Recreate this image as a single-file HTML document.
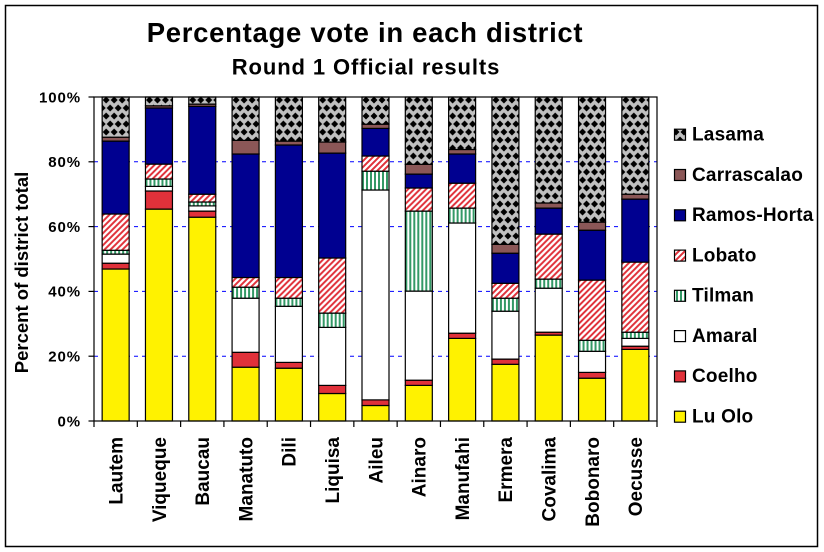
<!DOCTYPE html>
<html>
<head>
<meta charset="utf-8">
<style>
html,body{margin:0;padding:0;background:#fff;}
svg{display:block;}
text{font-family:"Liberation Sans",Arial,sans-serif;font-weight:bold;fill:#000;}
.s rect{stroke:#000;stroke-width:1.2;}
.y{fill:#FFF200;}
.r{fill:#E0313A;}
.w{fill:#FFFFFF;}
.t{fill:url(#til);}
.l{fill:url(#lob);}
.n{fill:#000090;}
.b{fill:#8B5757;}
.g{fill:url(#las);}
</style>
</head>
<body>
<svg width="824" height="552" viewBox="0 0 824 552" xmlns="http://www.w3.org/2000/svg">
<defs>
<pattern id="las" patternUnits="userSpaceOnUse" width="8" height="16">
<rect x="0" y="0" width="8" height="16" fill="#C0C0C0"/>
<path d="M4,0.5 L7.5,4 L4,7.5 L0.5,4 Z M0,8.5 L3.5,12 L0,15.5 L-3.5,12 Z M8,8.5 L11.5,12 L8,15.5 L4.5,12 Z" fill="#000"/>
</pattern>
<pattern id="til" patternUnits="userSpaceOnUse" width="4" height="4">
<rect x="0" y="0" width="4" height="4" fill="#fff"/>
<rect x="0" y="0" width="2" height="4" fill="#339966"/>
</pattern>
<pattern id="lob" patternUnits="userSpaceOnUse" width="6" height="6">
<rect x="0" y="0" width="6" height="6" fill="#fff"/>
<path d="M-1.5,1.5 L1.5,-1.5 M0,6 L6,0 M4.5,7.5 L7.5,4.5" stroke="#E0313A" stroke-width="2"/>
</pattern>
</defs>

<rect x="0" y="0" width="824" height="552" fill="#fff"/>
<rect x="5.5" y="5.5" width="812" height="541" fill="none" stroke="#000" stroke-width="1.5"/>

<!-- titles -->
<text x="365" y="42" font-size="27.5" text-anchor="middle" letter-spacing="0.7">Percentage vote in each district</text>
<text x="366" y="74.3" font-size="22" text-anchor="middle" letter-spacing="0.9">Round 1 Official results</text>

<!-- gridlines -->
<g stroke="#0000FF" stroke-width="1" stroke-dasharray="4 4">
<line x1="94" y1="356.2" x2="657" y2="356.2"/>
<line x1="94" y1="291.4" x2="657" y2="291.4"/>
<line x1="94" y1="226.6" x2="657" y2="226.6"/>
<line x1="94" y1="161.8" x2="657" y2="161.8"/>
</g>

<!-- bars -->
<g class="s">
<g transform="translate(102.15,0)">
<rect class="y" x="0" width="27" y="269.0" height="152.0"/>
<rect class="r" x="0" width="27" y="263.2" height="5.8"/>
<rect class="w" x="0" width="27" y="254.1" height="9.1"/>
<rect class="t" x="0" width="27" y="250.3" height="3.8"/>
<rect class="l" x="0" width="27" y="214.0" height="36.3"/>
<rect class="n" x="0" width="27" y="141.1" height="72.9"/>
<rect class="b" x="0" width="27" y="137.2" height="3.9"/>
<rect class="g" x="0" width="27" y="97" height="40.2"/>
</g>
<g transform="translate(145.46,0)">
<rect class="y" x="0" width="27" y="209.1" height="211.9"/>
<rect class="r" x="0" width="27" y="191.0" height="18.1"/>
<rect class="w" x="0" width="27" y="186.4" height="4.6"/>
<rect class="t" x="0" width="27" y="179.0" height="7.4"/>
<rect class="l" x="0" width="27" y="164.1" height="14.9"/>
<rect class="n" x="0" width="27" y="108.0" height="56.1"/>
<rect class="b" x="0" width="27" y="105.8" height="2.2"/>
<rect class="g" x="0" width="27" y="97" height="8.8"/>
</g>
<g transform="translate(188.77,0)">
<rect class="y" x="0" width="27" y="217.2" height="203.8"/>
<rect class="r" x="0" width="27" y="211.1" height="6.1"/>
<rect class="w" x="0" width="27" y="205.9" height="5.2"/>
<rect class="t" x="0" width="27" y="202.0" height="3.9"/>
<rect class="l" x="0" width="27" y="194.2" height="7.8"/>
<rect class="n" x="0" width="27" y="106.4" height="87.8"/>
<rect class="b" x="0" width="27" y="104.1" height="2.3"/>
<rect class="g" x="0" width="27" y="97" height="7.1"/>
</g>
<g transform="translate(232.08,0)">
<rect class="y" x="0" width="27" y="367.2" height="53.8"/>
<rect class="r" x="0" width="27" y="352.3" height="14.9"/>
<rect class="w" x="0" width="27" y="298.2" height="54.1"/>
<rect class="t" x="0" width="27" y="287.2" height="11.0"/>
<rect class="l" x="0" width="27" y="277.5" height="9.7"/>
<rect class="n" x="0" width="27" y="154.0" height="123.5"/>
<rect class="b" x="0" width="27" y="140.4" height="13.6"/>
<rect class="g" x="0" width="27" y="97" height="43.4"/>
</g>
<g transform="translate(275.39,0)">
<rect class="y" x="0" width="27" y="368.2" height="52.8"/>
<rect class="r" x="0" width="27" y="362.4" height="5.8"/>
<rect class="w" x="0" width="27" y="306.3" height="56.1"/>
<rect class="t" x="0" width="27" y="298.2" height="8.1"/>
<rect class="l" x="0" width="27" y="277.5" height="20.7"/>
<rect class="n" x="0" width="27" y="145.0" height="132.5"/>
<rect class="b" x="0" width="27" y="141.1" height="3.9"/>
<rect class="g" x="0" width="27" y="97" height="44.1"/>
</g>
<g transform="translate(318.69,0)">
<rect class="y" x="0" width="27" y="393.5" height="27.5"/>
<rect class="r" x="0" width="27" y="385.4" height="8.1"/>
<rect class="w" x="0" width="27" y="327.4" height="58.0"/>
<rect class="t" x="0" width="27" y="313.1" height="14.3"/>
<rect class="l" x="0" width="27" y="258.0" height="55.1"/>
<rect class="n" x="0" width="27" y="153.1" height="104.9"/>
<rect class="b" x="0" width="27" y="142.0" height="11.1"/>
<rect class="g" x="0" width="27" y="97" height="45.0"/>
</g>
<g transform="translate(362.0,0)">
<rect class="y" x="0" width="27" y="405.5" height="15.5"/>
<rect class="r" x="0" width="27" y="399.9" height="5.6"/>
<rect class="w" x="0" width="27" y="190.0" height="209.9"/>
<rect class="t" x="0" width="27" y="171.2" height="18.8"/>
<rect class="l" x="0" width="27" y="156.0" height="15.2"/>
<rect class="n" x="0" width="27" y="128.4" height="27.6"/>
<rect class="b" x="0" width="27" y="124.2" height="4.2"/>
<rect class="g" x="0" width="27" y="97" height="27.2"/>
</g>
<g transform="translate(405.31,0)">
<rect class="y" x="0" width="27" y="385.4" height="35.6"/>
<rect class="r" x="0" width="27" y="380.2" height="5.2"/>
<rect class="w" x="0" width="27" y="291.1" height="89.1"/>
<rect class="t" x="0" width="27" y="211.1" height="80.0"/>
<rect class="l" x="0" width="27" y="188.0" height="23.1"/>
<rect class="n" x="0" width="27" y="174.1" height="13.9"/>
<rect class="b" x="0" width="27" y="164.4" height="9.7"/>
<rect class="g" x="0" width="27" y="97" height="67.4"/>
</g>
<g transform="translate(448.62,0)">
<rect class="y" x="0" width="27" y="338.4" height="82.6"/>
<rect class="r" x="0" width="27" y="333.2" height="5.2"/>
<rect class="w" x="0" width="27" y="223.0" height="110.2"/>
<rect class="t" x="0" width="27" y="208.1" height="14.9"/>
<rect class="l" x="0" width="27" y="183.2" height="24.9"/>
<rect class="n" x="0" width="27" y="154.0" height="29.2"/>
<rect class="b" x="0" width="27" y="149.5" height="4.5"/>
<rect class="g" x="0" width="27" y="97" height="52.5"/>
</g>
<g transform="translate(491.93,0)">
<rect class="y" x="0" width="27" y="364.3" height="56.7"/>
<rect class="r" x="0" width="27" y="359.1" height="5.2"/>
<rect class="w" x="0" width="27" y="311.2" height="47.9"/>
<rect class="t" x="0" width="27" y="298.2" height="13.0"/>
<rect class="l" x="0" width="27" y="283.3" height="14.9"/>
<rect class="n" x="0" width="27" y="253.2" height="30.1"/>
<rect class="b" x="0" width="27" y="244.4" height="8.8"/>
<rect class="g" x="0" width="27" y="97" height="147.4"/>
</g>
<g transform="translate(535.23,0)">
<rect class="y" x="0" width="27" y="335.1" height="85.9"/>
<rect class="r" x="0" width="27" y="332.2" height="2.9"/>
<rect class="w" x="0" width="27" y="288.2" height="44.0"/>
<rect class="t" x="0" width="27" y="279.1" height="9.1"/>
<rect class="l" x="0" width="27" y="234.1" height="45.0"/>
<rect class="n" x="0" width="27" y="208.1" height="26.0"/>
<rect class="b" x="0" width="27" y="203.0" height="5.1"/>
<rect class="g" x="0" width="27" y="97" height="106.0"/>
</g>
<g transform="translate(578.54,0)">
<rect class="y" x="0" width="27" y="378.2" height="42.8"/>
<rect class="r" x="0" width="27" y="372.4" height="5.8"/>
<rect class="w" x="0" width="27" y="351.3" height="21.1"/>
<rect class="t" x="0" width="27" y="340.3" height="11.0"/>
<rect class="l" x="0" width="27" y="280.1" height="60.2"/>
<rect class="n" x="0" width="27" y="230.2" height="49.9"/>
<rect class="b" x="0" width="27" y="222.1" height="8.1"/>
<rect class="g" x="0" width="27" y="97" height="125.1"/>
</g>
<g transform="translate(621.85,0)">
<rect class="y" x="0" width="27" y="349.4" height="71.6"/>
<rect class="r" x="0" width="27" y="346.2" height="3.2"/>
<rect class="w" x="0" width="27" y="338.4" height="7.8"/>
<rect class="t" x="0" width="27" y="332.2" height="6.2"/>
<rect class="l" x="0" width="27" y="260.3" height="71.9"/>
<rect class="n" x="0" width="27" y="199.1" height="63.1"/>
<rect class="b" x="0" width="27" y="194.2" height="4.9"/>
<rect class="g" x="0" width="27" y="97" height="97.2"/>
</g>
</g>

<!-- plot border and axes -->
<rect x="94" y="97" width="563" height="324" fill="none" stroke="#000" stroke-width="1.2"/>
<g stroke="#000" stroke-width="1.2">
<line x1="88.5" y1="97" x2="94" y2="97"/>
<line x1="88.5" y1="161.8" x2="94" y2="161.8"/>
<line x1="88.5" y1="226.6" x2="94" y2="226.6"/>
<line x1="88.5" y1="291.4" x2="94" y2="291.4"/>
<line x1="88.5" y1="356.2" x2="94" y2="356.2"/>
<line x1="88.5" y1="421" x2="94" y2="421"/>
<line x1="94" y1="421" x2="94" y2="427"/>
<line x1="137.31" y1="421" x2="137.31" y2="427"/>
<line x1="180.62" y1="421" x2="180.62" y2="427"/>
<line x1="223.92" y1="421" x2="223.92" y2="427"/>
<line x1="267.23" y1="421" x2="267.23" y2="427"/>
<line x1="310.54" y1="421" x2="310.54" y2="427"/>
<line x1="353.85" y1="421" x2="353.85" y2="427"/>
<line x1="397.15" y1="421" x2="397.15" y2="427"/>
<line x1="440.46" y1="421" x2="440.46" y2="427"/>
<line x1="483.77" y1="421" x2="483.77" y2="427"/>
<line x1="527.08" y1="421" x2="527.08" y2="427"/>
<line x1="570.38" y1="421" x2="570.38" y2="427"/>
<line x1="613.69" y1="421" x2="613.69" y2="427"/>
<line x1="657" y1="421" x2="657" y2="427"/>
</g>

<!-- y tick labels -->
<g font-size="15" text-anchor="end" letter-spacing="0.9">
<text x="81" y="102.3">100%</text>
<text x="81" y="167.1">80%</text>
<text x="81" y="231.9">60%</text>
<text x="81" y="296.7">40%</text>
<text x="81" y="361.5">20%</text>
<text x="81" y="426.3">0%</text>
</g>

<!-- y axis title -->
<text font-size="18.5" text-anchor="middle" transform="translate(28,272.5) rotate(-90)">Percent of district total</text>

<!-- category labels -->
<g font-size="19" text-anchor="end">
<text transform="translate(122.5,437) rotate(-90)">Lautem</text>
<text transform="translate(165.8,437) rotate(-90)">Viqueque</text>
<text transform="translate(209.1,437) rotate(-90)">Baucau</text>
<text transform="translate(252.4,437) rotate(-90)">Manatuto</text>
<text transform="translate(295.7,437) rotate(-90)">Dili</text>
<text transform="translate(339.0,437) rotate(-90)">Liquisa</text>
<text transform="translate(382.3,437) rotate(-90)">Aileu</text>
<text transform="translate(425.6,437) rotate(-90)">Ainaro</text>
<text transform="translate(468.9,437) rotate(-90)">Manufahi</text>
<text transform="translate(512.2,437) rotate(-90)">Ermera</text>
<text transform="translate(555.5,437) rotate(-90)">Covalima</text>
<text transform="translate(598.8,437) rotate(-90)">Bobonaro</text>
<text transform="translate(642.1,437) rotate(-90)">Oecusse</text>
</g>

<!-- legend -->
<g stroke="#000" stroke-width="1.2">
<rect class="g" x="674.5" y="129.2" width="11" height="11"/>
<rect class="b" x="674.5" y="169.5" width="11" height="11"/>
<rect class="n" x="674.5" y="209.8" width="11" height="11"/>
<rect class="l" x="674.5" y="250.1" width="11" height="11"/>
<rect class="t" x="674.5" y="290.3" width="11" height="11"/>
<rect class="w" x="674.5" y="330.6" width="11" height="11"/>
<rect class="r" x="674.5" y="370.9" width="11" height="11"/>
<rect class="y" x="674.5" y="411.2" width="11" height="11"/>
</g>
<g font-size="19" letter-spacing="0.2">
<text x="692" y="140.5">Lasama</text>
<text x="692" y="180.8">Carrascalao</text>
<text x="692" y="221.1">Ramos-Horta</text>
<text x="692" y="261.3">Lobato</text>
<text x="692" y="301.6">Tilman</text>
<text x="692" y="341.9">Amaral</text>
<text x="692" y="382.2">Coelho</text>
<text x="692" y="422.4">Lu Olo</text>
</g>
</svg>
</body>
</html>
